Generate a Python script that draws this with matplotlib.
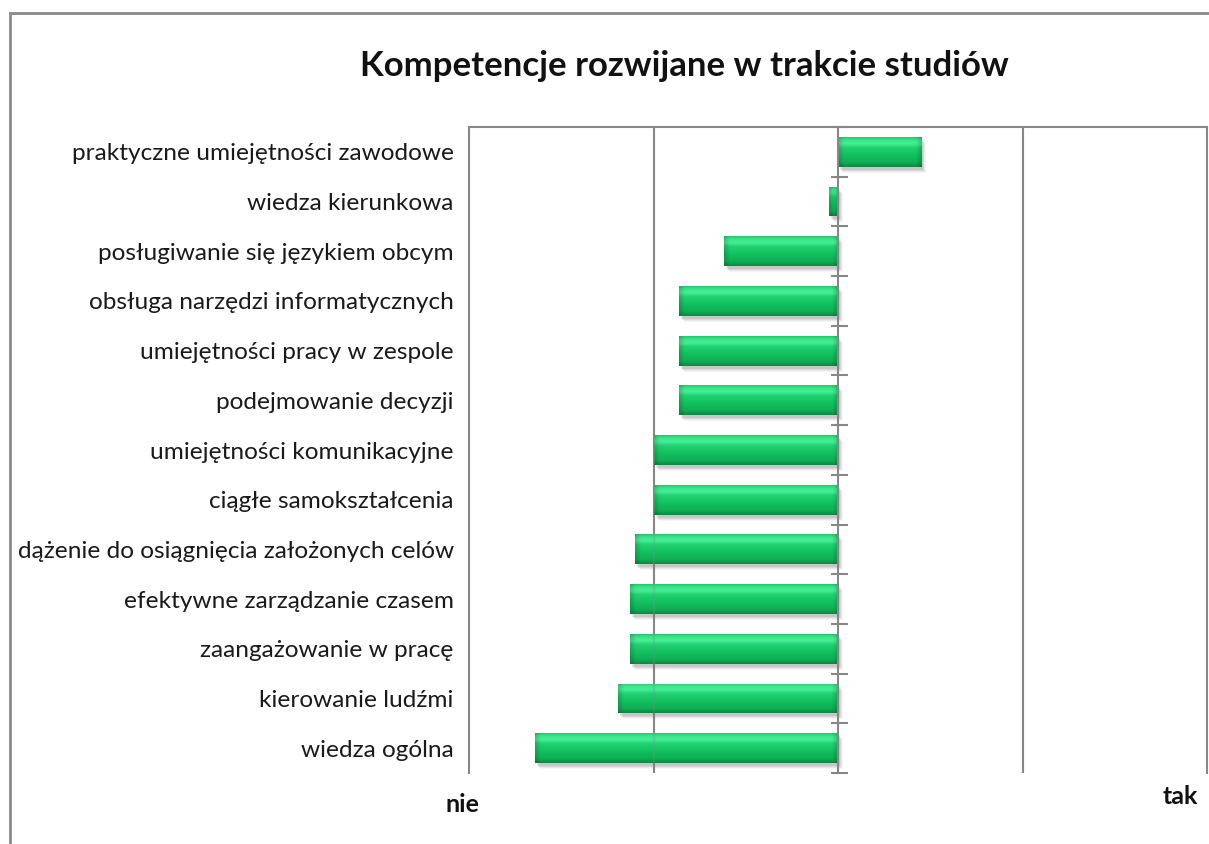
import numpy as np
import matplotlib
matplotlib.use("Agg")
import matplotlib.pyplot as plt
import matplotlib.transforms as mtransforms
from matplotlib.colors import LinearSegmentedColormap
from matplotlib.patches import Rectangle

plt.rcParams['font.family'] = ['Lato', 'DejaVu Sans']

title = "Kompetencje rozwijane w trakcie studiów"
categories = [
    "praktyczne umiejętności zawodowe",
    "wiedza kierunkowa",
    "posługiwanie się językiem obcym",
    "obsługa narzędzi informatycznych",
    "umiejętności pracy w zespole",
    "podejmowanie decyzji",
    "umiejętności komunikacyjne",
    "ciągłe samokształcenia",
    "dążenie do osiągnięcia założonych celów",
    "efektywne zarządzanie czasem",
    "zaangażowanie w pracę",
    "kierowanie ludźmi",
    "wiedza ogólna",
]
values = [0.45, -0.05, -0.62, -0.86, -0.86, -0.86, -1.00, -1.00,
          -1.10, -1.13, -1.13, -1.19, -1.64]
scale_labels = ["nie", "tak"]

W, H = 1209, 844
fig = plt.figure(figsize=(W / 100, H / 100), dpi=100)
fig.patch.set_facecolor("white")

# outer chart frame
fig.patches.append(Rectangle((10 / W, -0.05), 1.2, (H - 13) / H + 0.05,
                             transform=fig.transFigure, fill=False,
                             edgecolor="#8a8a8a", linewidth=2.0, zorder=0))

ax = fig.add_axes([469 / W, 71 / H, 738 / W, 646 / H])
n = len(categories)
ypos = np.arange(n)
ax.set_xlim(-2, 2)
ax.set_ylim(n - 0.5, -0.5)

grid_c = "#878787"
bars = ax.barh(ypos, values, height=0.6, color="#14c25f", zorder=3,
               linewidth=0)

# soft drop shadow under each bar
for dx, dy, a in [(5, -6, 0.07), (4, -5, 0.10), (3, -4, 0.14), (2, -3, 0.18)]:
    off = mtransforms.ScaledTranslation(dx / 100, dy / 100, fig.dpi_scale_trans)
    for b in bars:
        sh = Rectangle((b.get_x(), b.get_y()), b.get_width(), b.get_height(),
                       transform=ax.transData + off, facecolor="#7a7a7a",
                       alpha=a, linewidth=0, zorder=2)
        ax.add_patch(sh)

# glossy fill: vertical gradient with darker bevelled ends
cmap = LinearSegmentedColormap.from_list(
    "gloss",
    [(0.0, "#22cc6c"), (0.10, "#3fe58e"), (0.22, "#45ee95"), (0.34, "#22d273"),
     (0.6, "#12c15f"), (0.85, "#0fae55"), (1.0, "#0a8c43")])
rows = cmap(np.linspace(0, 1, 48))[:, :3]
px_per_unit = ax.transData.transform((1, 0))[0] - ax.transData.transform((0, 0))[0]
for b in bars:
    x0, x1 = sorted([b.get_x(), b.get_x() + b.get_width()])
    top, bot = b.get_y(), b.get_y() + b.get_height()
    ncol = max(int(round((x1 - x0) * px_per_unit)), 2)
    cols = np.arange(ncol) + 0.5
    edge = np.minimum(cols, ncol - cols)
    shade = 1 - 0.18 * np.clip(1 - edge / 6.0, 0, 1)
    img = rows[:, None, :] * shade[None, :, None]
    im = ax.imshow(img, aspect="auto", origin="upper",
                   extent=(x0, x1, bot, top), zorder=3.5,
                   interpolation="bilinear")
    im.set_clip_path(b)

# vertical gridlines (faintly visible through the bars)
for gx in (-1, 1):
    ax.axvline(gx, color=grid_c, linewidth=1.5, zorder=1)
    ax.axvline(gx, color=grid_c, linewidth=1.5, alpha=0.3, zorder=5)

# zero axis with crossing tick marks at category boundaries
ax.axvline(0, color=grid_c, linewidth=1.5, zorder=4)
ax.hlines(np.arange(n + 1) - 0.5, -0.038, 0.055, color=grid_c,
          linewidth=1.5, zorder=4, clip_on=False)

for s in ("left", "top", "right"):
    ax.spines[s].set_color(grid_c)
    ax.spines[s].set_linewidth(1.5)
ax.spines["bottom"].set_visible(False)

ax.set_xticks([])
ax.set_yticks(ypos)
ax.set_yticklabels(categories, fontsize=17.6, color="#1a1a1a")
ax.tick_params(axis="y", length=0, pad=11)

fig.text(684 / W, 1 - 66 / H, title, ha="center", va="center",
         fontsize=25, fontweight="bold", color="#111111")
fig.text(462 / W, 1 - 805 / H, scale_labels[0], ha="center", va="center",
         fontsize=18, fontweight="bold", color="#111111")
fig.text(1180 / W, 1 - 797 / H, scale_labels[1], ha="center", va="center",
         fontsize=18, fontweight="bold", color="#111111")

fig.savefig("out.png", dpi=100)
